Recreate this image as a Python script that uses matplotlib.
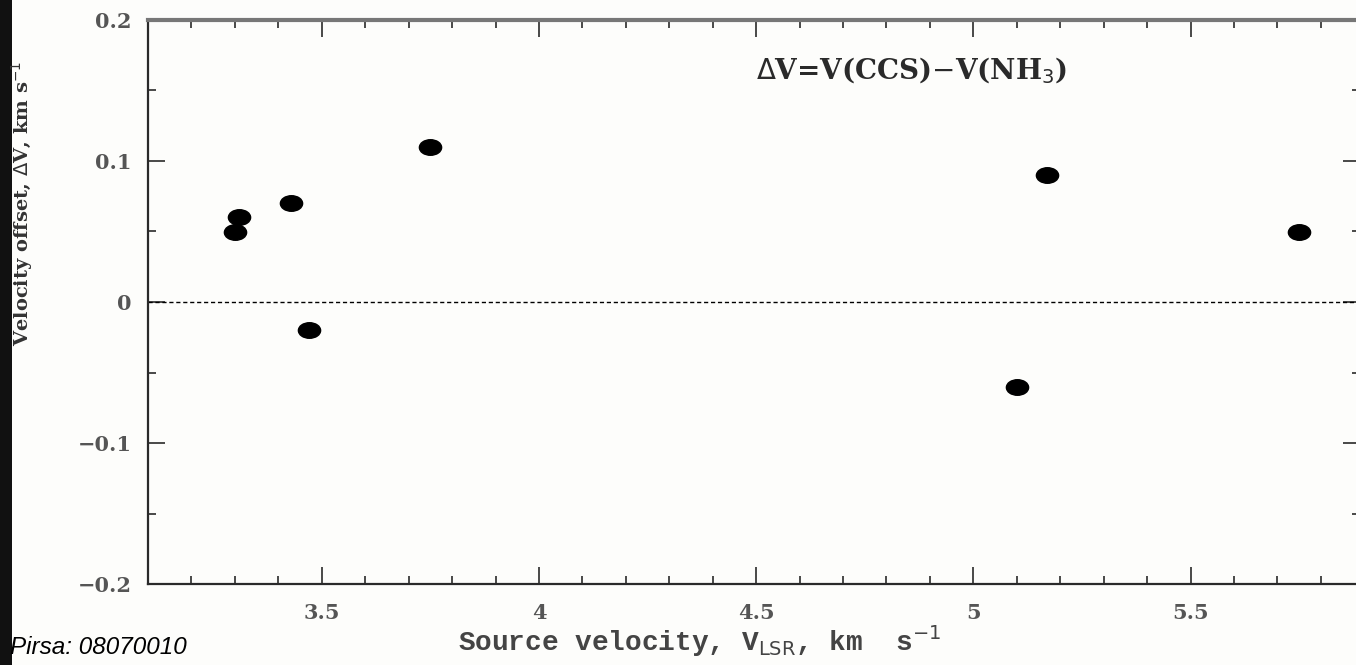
#!/usr/bin/env python3
"""
Velocity offset between CCS and NH3 lines vs source velocity.
Recreation of a scanned slide figure.
"""
import numpy as np
import matplotlib.pyplot as plt
from matplotlib.path import Path
from matplotlib.patches import Rectangle
from matplotlib.ticker import MultipleLocator

# Data
v_lsr = [3.30, 3.31, 3.43, 3.47, 3.75, 5.10, 5.17, 5.75]   # km/s
delta_v = [0.05, 0.06, 0.07, -0.02, 0.11, -0.06, 0.09, 0.05]  # km/s

x_ticks = [3.5, 4.0, 4.5, 5.0, 5.5]
x_tick_labels = ['3.5', '4', '4.5', '5', '5.5']
y_ticks = [-0.2, -0.1, 0.0, 0.1, 0.2]
y_tick_labels = ['\u22120.2', '\u22120.1', '0', '0.1', '0.2']

INK = '#2a2a2a'
TICK_TXT = '#555555'

# slightly flattened dot, like the blurred scan
circ = Path.unit_circle()
ellipse = Path(circ.vertices * np.array([1.0, 0.7]), circ.codes)

W, H = 1356, 665
fig = plt.figure(figsize=(W / 100, H / 100), dpi=100)
fig.patch.set_facecolor('#fdfdfb')

# axes box: left spine ~148px, top ~20px, bottom ~584px, runs off the right edge
ax = fig.add_axes([148 / W, 1 - 584 / H, (W + 4 - 148) / W, (584 - 20) / H])
ax.set_facecolor('#fdfdfb')

ax.plot(v_lsr, delta_v, linestyle='none', marker=ellipse, markersize=16,
        color='black')
ax.axhline(0, color='black', lw=1.0, ls=(0, (3, 2)))

ax.set_xlim(3.1, 5.89)
ax.set_ylim(-0.2, 0.2)

ax.set_xticks(x_ticks)
ax.set_xticklabels(x_tick_labels)
ax.set_yticks(y_ticks)
ax.set_yticklabels(y_tick_labels)
ax.xaxis.set_minor_locator(MultipleLocator(0.1))
ax.yaxis.set_minor_locator(MultipleLocator(0.05))

ax.tick_params(which='both', direction='in', top=True, right=True,
               colors=INK, labelcolor=TICK_TXT, labelsize=15)
ax.tick_params(which='major', length=12, width=1.2)
ax.tick_params(axis='x', which='major', pad=14)
ax.tick_params(axis='y', which='major', pad=12)
ax.tick_params(which='minor', length=6, width=1.2)
for lab in ax.get_xticklabels() + ax.get_yticklabels():
    lab.set_family('DejaVu Serif')
    lab.set_weight('bold')

for side in ['left', 'bottom']:
    ax.spines[side].set_color(INK)
    ax.spines[side].set_linewidth(1.6)
ax.spines['top'].set_color('#777777')
ax.spines['top'].set_linewidth(3)
ax.spines['right'].set_visible(False)

ax.text(4.5, 0.164, r'$\Delta$V=V(CCS)$-$V(NH$_3$)', fontsize=20,
        family='DejaVu Serif', weight='bold', color=INK, va='center')

# the label sits a little left of the axes centre on the slide
ax.set_xlabel(r'Source velocity, V$_{\rm LSR}$, km  s$^{-1}$', fontsize=20,
              family='Liberation Mono', weight='bold', color='#444444',
              labelpad=0, x=0.455)

# rotated y label, half hidden in the dark border of the slide photo
fig.text(22 / W, 1 - 203 / H, r'Velocity offset, $\Delta$V, km s$^{-1}$',
         rotation=90, ha='center', va='center', fontsize=14,
         family='DejaVu Serif', weight='bold', color='#333333')
fig.patches.append(Rectangle((0, 0), 12 / W, 1, transform=fig.transFigure,
                             facecolor='#111111', edgecolor='none'))

fig.text(10 / W, 1 - 648 / H, 'Pirsa: 08070010', fontsize=17.5,
         family='Liberation Sans', style='italic', color='black', va='center')

out_plot = 'out.png'
fig.savefig(out_plot, dpi=100, facecolor=fig.get_facecolor())
print(f'Saved plot: {out_plot}')
